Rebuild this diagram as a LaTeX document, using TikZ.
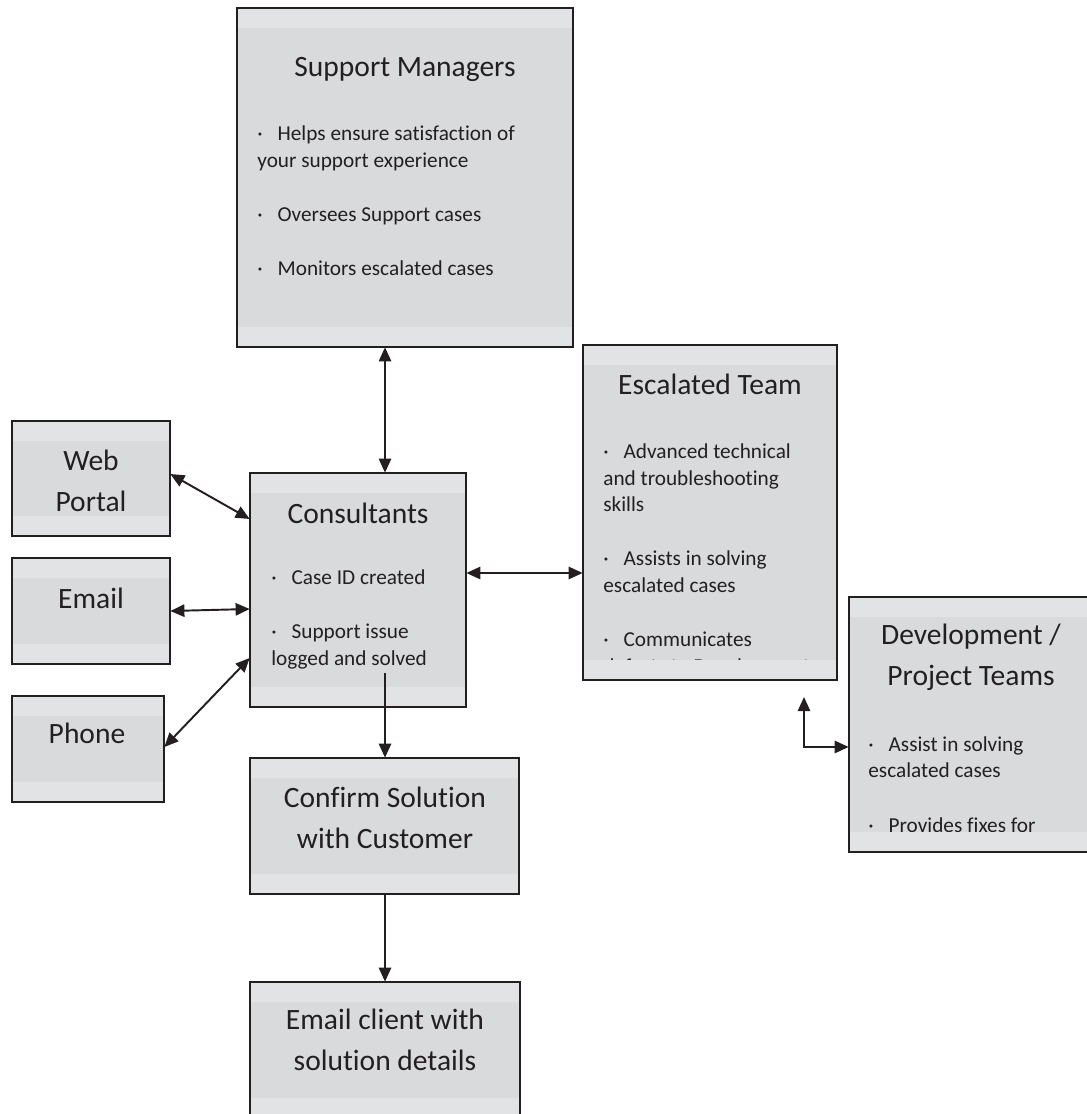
\documentclass[tikz,border=0pt]{standalone}
\usepackage{fontspec}
\setmainfont{Carlito}[Ligatures=NoCommon]
\usetikzlibrary{arrows.meta}
\definecolor{myboxcolor}{HTML}{D9DADC}
\definecolor{mybandcolor}{HTML}{E2E3E5}
\definecolor{mylinecolor}{HTML}{231F20}
\tikzset{
  flowbox/.style={draw=none, fill=myboxcolor, rectangle, inner sep=0pt},
  boxtitle/.style={anchor=base, align=center, inner sep=0pt, text=mylinecolor, font=\fontsize{16.8pt}{23pt}\selectfont},
  boxitems/.style={anchor=base west, align=left, inner sep=0pt, text=mylinecolor, font=\fontsize{12.1pt}{15pt}\selectfont},
  link/.style={draw=mylinecolor, line width=1.1pt, -{Triangle[length=8pt,width=7pt]}},
  twoway/.style={link, {Triangle[length=8pt,width=7pt]}-{Triangle[length=8pt,width=7pt]}},
}
\newcommand{\itemdot}{·\hspace{8.5pt}}

\begin{document}
\begin{tikzpicture}[x=0.02cm, y=-0.02cm]%
\useasboundingbox (0,0) rectangle (1086,1114);%
% boxes
\node[flowbox, minimum width=6.72cm, minimum height=6.78cm] (mgr) at (405,177.5) {};%
\node[flowbox, minimum width=3.16cm, minimum height=2.30cm] (web) at (91,478.5) {};%
\node[flowbox, minimum width=3.16cm, minimum height=2.12cm] (mail) at (91,611) {};%
\node[flowbox, minimum width=3.04cm, minimum height=2.12cm] (phone) at (88,749) {};%
\node[flowbox, minimum width=4.32cm, minimum height=4.68cm] (cons) at (358,590) {};%
\node[flowbox, minimum width=5.38cm, minimum height=2.72cm] (confirm) at (384.5,826) {};%
\node[flowbox, minimum width=5.40cm, minimum height=2.72cm] (client) at (385,1050) {};%
\node[flowbox, minimum width=5.08cm, minimum height=6.70cm] (esc) at (710,512.5) {};%
\node[flowbox, minimum width=4.88cm, minimum height=5.10cm] (dev) at (971,724.5) {};%
% texts (multi-line ones sit on their last baseline)
\node[boxtitle] (mgrtitle) at (405,77) {Support Managers};%
\node[boxitems] (mgritems) at (257,276) {\itemdot Helps ensure satisfaction of\\your support experience\\[16pt]\itemdot Oversees Support cases\\[16pt]\itemdot Monitors escalated cases};%
\node[boxtitle] (webtitle) at (91,511) {Web\\Portal};%
\node[boxtitle] (mailtitle) at (91,608) {Email};%
\node[boxtitle] (phonetitle) at (87,743) {Phone};%
\node[boxtitle] (constitle) at (358,523) {Consultants};%
\node[boxitems] (consitems) at (271,665) {\itemdot Case ID created\\[16pt]\itemdot Support issue\\logged and solved};%
\node[boxtitle] (confirmtitle) at (385,848) {Confirm Solution\\with Customer};%
\node[boxtitle] (clienttitle) at (385,1070) {Email client with\\solution details};%
\node[boxtitle] (esctitle) at (710,394) {Escalated Team};%
\node[boxitems] (escitems) at (603,673) {\itemdot Advanced technical\\and troubleshooting\\skills\\[16pt]\itemdot Assists in solving\\escalated cases\\[16pt]\itemdot Communicates\\defects to Development};%
\node[boxtitle] (devtitle) at (971,685) {Development /\\Project Teams};%
\node[boxitems] (devitems) at (868,832) {\itemdot Assist in solving\\escalated cases\\[16pt]\itemdot Provides fixes for};%
% light bands and frames
\foreach \b in {mgr,web,mail,phone,cons,confirm,client,esc,dev} {%
  \fill[mybandcolor] (\b.north west) rectangle ([yshift=-0.4cm]\b.north east);%
  \fill[mybandcolor] (\b.south west) rectangle ([yshift=0.4cm]\b.south east);%
  \draw[mylinecolor, line width=1.1pt] (\b.north west) rectangle (\b.south east);%
}%
% connectors
\coordinate (vx) at (385,0);%
\coordinate (solved) at (385,673);%
\coordinate (escfoot) at (804,697);%
\draw[twoway] (mgr.south -| vx) -- (cons.north -| vx);%
\draw[twoway] ([yshift=0.09cm]web.east) -- ([yshift=1.42cm]cons.west);%
\draw[twoway] (mail.east) -- ([yshift=-0.38cm]cons.west);%
\draw[twoway] ([yshift=0.04cm]phone.east) -- ([yshift=-1.36cm]cons.west);%
\draw[twoway] ([yshift=0.34cm]cons.east) -- ([yshift=-1.21cm]esc.west);%
\draw[link] (solved) -- (confirm.north -| solved);%
\draw[link] (confirm.south -| solved) -- (client.north -| solved);%
\draw[twoway] (escfoot) |- ([yshift=-0.45cm]dev.west);%
\end{tikzpicture}
\end{document}
